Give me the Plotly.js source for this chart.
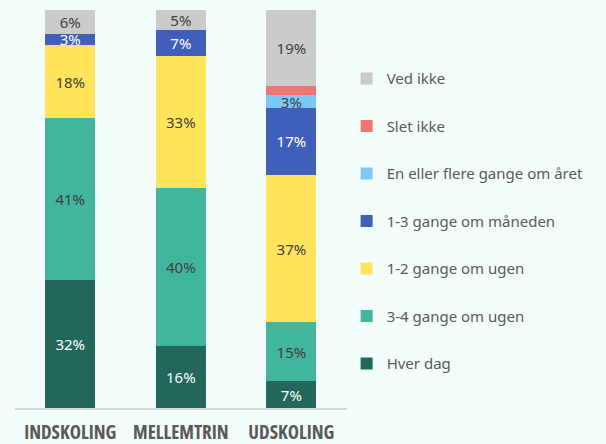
<!DOCTYPE html>
<html>
<head>
<meta charset="utf-8">
<script src="https://cdn.plot.ly/plotly-3.0.1.min.js"></script>
<style>
html,body{margin:0;padding:0;background:#F3FDFB;}
.xtick text{font-stretch:78% !important;}
</style>
</head>
<body>
<div id="chart" style="width:606px;height:444px;"></div>
<script>
const categories = ["INDSKOLING", "MELLEMTRIN", "UDSKOLING"];
const seriesNames = ["Hver dag", "3-4 gange om ugen", "1-2 gange om ugen", "1-3 gange om måneden", "En eller flere gange om året", "Slet ikke", "Ved ikke"];
const hverDag = [32.1, 15.6, 6.7];
const treFireUge = [40.7, 39.6, 14.8];
const enToUge = [18.4, 33.2, 37.1];
const enTreMaaned = [2.8, 6.6, 16.8];
const flereAar = [0, 0, 3.2];
const sletIkke = [0, 0, 2.4];
const vedIkke = [6.0, 5.0, 19.0];

const seriesValues = [hverDag, treFireUge, enToUge, enTreMaaned, flereAar, sletIkke, vedIkke];
const colors = ["#22675A", "#41B59D", "#FFE45C", "#3F5FBA", "#7EC8F5", "#F07470", "#CBCBCB"];
const textColors = ["#FFFFFF", "#404040", "#404040", "#FFFFFF", "#404040", "#404040", "#404040"];

const traces = seriesNames.map((name, i) => ({
  type: "bar",
  name: name,
  x: categories,
  y: seriesValues[i],
  text: seriesValues[i].map(v => v >= 2.5 ? Math.round(v) + "%" : ""),
  textposition: "inside",
  insidetextanchor: "middle",
  constraintext: "none",
  textangle: 0,
  textfont: {family: "Noto Sans, Open Sans, sans-serif", size: 15, color: textColors[i]},
  marker: {color: colors[i], line: {width: 0}},
  legendgroup: "g" + i,
  legendrank: 100 - i,
  hoverinfo: "skip"
}));

const layout = {
  width: 606,
  height: 444,
  paper_bgcolor: "#F3FDFB",
  plot_bgcolor: "#F3FDFB",
  barmode: "stack",
  bargap: 0.55,
  margin: {l: 15, r: 250, t: 10, b: 36},
  showlegend: true,
  legend: {
    traceorder: "grouped",
    tracegroupgap: 25,
    maxheight: 430,
    xref: "container", yref: "container",
    x: 0.572, y: 0.86, xanchor: "left", yanchor: "top",
    font: {family: "Noto Sans, Open Sans, sans-serif", size: 15, color: "#595959"},
    bgcolor: "rgba(0,0,0,0)"
  },
  xaxis: {
    showline: true, linecolor: "#D6D6D6", linewidth: 2,
    ticks: "", showgrid: false, zeroline: false, tickangle: 0,
    ticklabelstandoff: 6,
    tickfont: {family: "Open Sans, sans-serif", size: 19, color: "#595959", weight: "bold"}
  },
  yaxis: {range: [0, 100], visible: false, showgrid: false, zeroline: false}
};

Plotly.newPlot("chart", traces, layout, {displayModeBar: false, staticPlot: true});
</script>
</body>
</html>
